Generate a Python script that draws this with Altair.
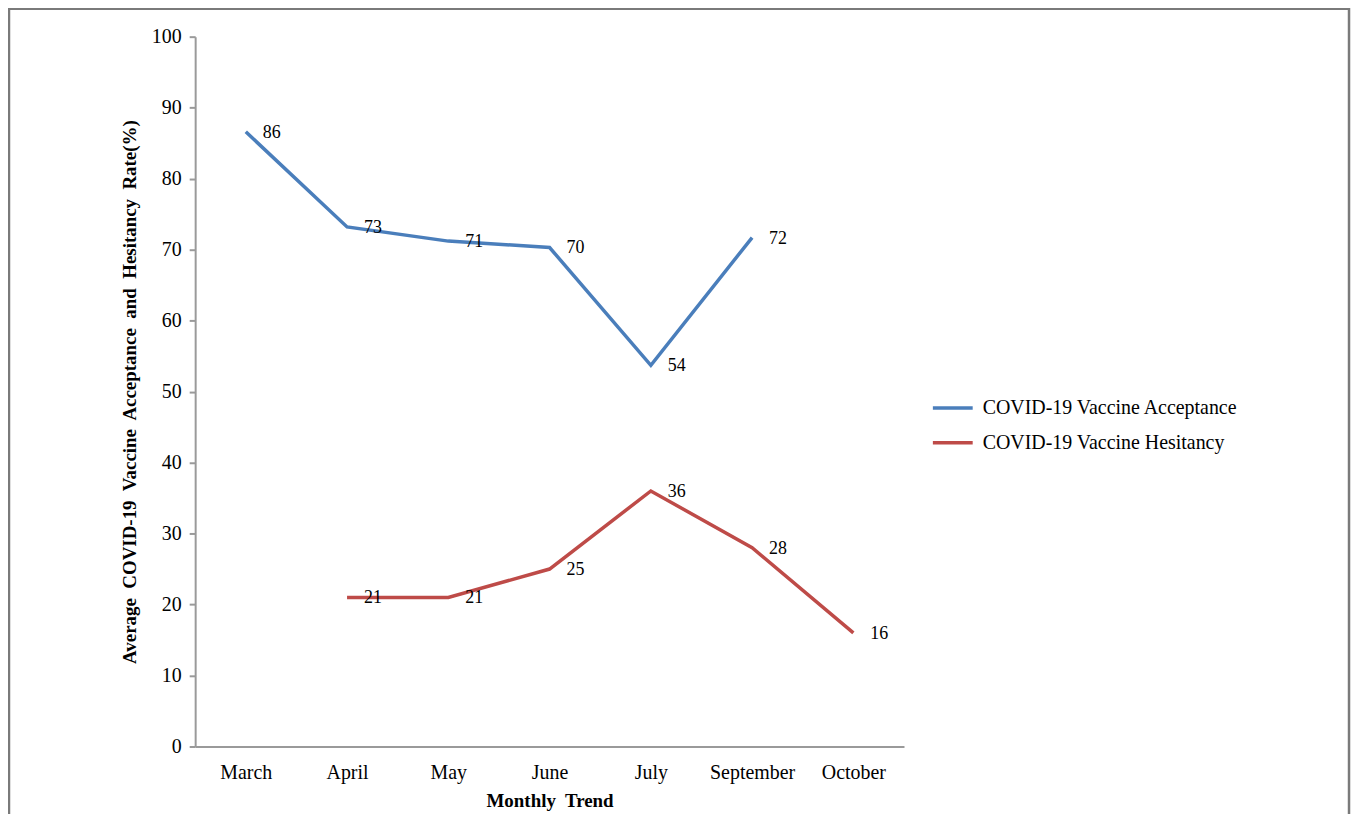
import altair as alt
import pandas as pd

months = ["March", "April", "May", "June", "July", "September", "October"]
series = ["COVID-19 Vaccine Acceptance", "COVID-19 Vaccine Hesitancy"]

acc_months = ["March", "April", "May", "June", "July", "September"]
acc_values = [86.6, 73.2, 71.2, 70.3, 53.7, 71.7]
acc_labels = ["86", "73", "71", "70", "54", "72"]

hes_months = ["April", "May", "June", "July", "September", "October"]
hes_values = [21, 21, 25, 36, 28, 16]
hes_labels = ["21", "21", "25", "36", "28", "16"]

rows = []
for m, v, l in zip(acc_months, acc_values, acc_labels):
    rows.append({"month": m, "value": v, "label": l, "series": series[0]})
for m, v, l in zip(hes_months, hes_values, hes_labels):
    rows.append({"month": m, "value": v, "label": l, "series": series[1]})
df = pd.DataFrame(rows)

FONT = "Liberation Serif"
FS = 18
LFS = 20
W, H = 712, 713
G = "\u00a0 "

x = alt.X("month:N", sort=months,
          scale=alt.Scale(type="point", domain=months, padding=0.5),
          axis=alt.Axis(title="Monthly" + G + "Trend", labelAngle=0, ticks=False,
                        labelPadding=16, titlePadding=9, titleFontSize=19))
y = alt.Y("value:Q", scale=alt.Scale(domain=[0, 100], nice=False),
          axis=alt.Axis(title=G.join(["Average", "COVID-19", "Vaccine", "Acceptance",
                                      "and", "Hesitancy", "Rate(%)"]),
                        values=list(range(0, 101, 10)), grid=False, tickSize=6,
                        labelPadding=8, titlePadding=12, titleFontSize=19))
color = alt.Color("series:N", scale=alt.Scale(domain=series, range=["#4a7ebb", "#be4b48"]),
                  legend=alt.Legend(title=None, orient="none", legendX=739, legendY=351,
                                    symbolType="stroke", symbolSize=1600,
                                    symbolStrokeWidth=3.5, labelFont=FONT,
                                    labelFontSize=20, labelColor="#000000",
                                    labelLimit=400, rowPadding=3, labelOffset=8))

lines = alt.Chart(df).mark_line(strokeWidth=3.5).encode(x=x, y=y, color=color, detail="series:N")
texts = alt.Chart(df).mark_text(align="left", baseline="middle", dx=17, dy=1,
                                font=FONT, fontSize=FS, color="#000000").encode(
    x=alt.X("month:N", sort=months), y="value:Q", text="label:N")

frame = alt.Chart(pd.DataFrame({"f": [0]})).mark_rect(
    fill=None, stroke="#7a7a7a", strokeWidth=2.5).encode(
    x=alt.value(-187), x2=alt.value(1159), y=alt.value(-28), y2=alt.value(830))

chart = alt.layer(frame, lines, texts).properties(
    width=W, height=H,
    autosize=alt.AutoSizeParams(type="none"),
    padding={"left": 188, "top": 27, "right": 450, "bottom": 66},
).configure_view(stroke=None).configure_axis(
    domainColor="#9a9a9a", domainWidth=2, tickColor="#9a9a9a", tickWidth=2,
    labelFont=FONT, labelFontSize=LFS, labelColor="#000000",
    titleFont=FONT, titleFontSize=FS, titleFontWeight="bold", titleColor="#000000",
)

chart.save("out.html", embed_options={"renderer": "svg", "actions": False})
